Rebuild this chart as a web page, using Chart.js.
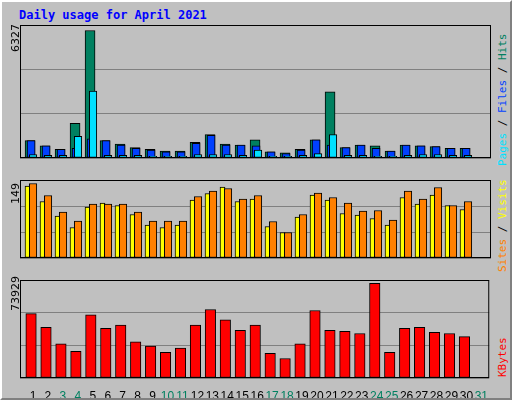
<!DOCTYPE html>
<html><head><meta charset="utf-8">
<script src="https://cdn.jsdelivr.net/npm/chart.js@4"></script>
<style>
body{margin:0;width:512px;height:400px;overflow:hidden;background:#c0c0c0;font-family:"DejaVu Sans Mono",monospace}
#frame{position:absolute;left:0;top:0;width:508px;height:396px;border-left:2px solid #fff;border-top:2px solid #fff;border-right:2px solid #808080;border-bottom:2px solid #808080}
.box{position:absolute;left:20px;width:471px}
.title{position:absolute;left:19px;top:8px;color:#0000ff;font-weight:bold;font-size:12px}
.vl{position:absolute;transform:rotate(-90deg);transform-origin:left top;font-size:11px;white-space:nowrap}
</style></head><body>
<div id="frame"></div>
<div class="title">Daily usage for April 2021</div>
<div class="box" style="top:25px;height:153px"><canvas id="c1"></canvas></div>
<div class="box" style="top:180px;height:98px"><canvas id="c2"></canvas></div>
<div class="box" style="top:280px;height:118px"><canvas id="c3"></canvas></div>
<div class="vl" style="left:9px;top:52px;color:#000;font-family:'DejaVu Sans'">6327</div>
<div class="vl" style="left:9px;top:204px;color:#000;font-family:'DejaVu Sans'">149</div>
<div class="vl" style="left:9px;top:311px;color:#000;font-family:'DejaVu Sans'">73929</div>
<div class="vl" style="left:496px;top:166px"><span style="color:#00e0ff">Pages</span> / <span style="color:#0040ff">Files</span> / <span style="color:#008060">Hits</span></div>
<div class="vl" style="left:496px;top:272px"><span style="color:#ff8000">Sites</span> / <span style="color:#ffff00">Visits</span></div>
<div class="vl" style="left:496px;top:377px;color:#ff0000">KBytes</div>
<script>
const days = Array.from({length: 30}, (_, i) => i + 1)
const dayLabels = ['1','2','3','4','5','6','7','8','9','10','11','12','13','14','15','16','17','18','19','20','21','22','23','24','25','26','27','28','29','30','31']
const weekendDays = [3, 4, 10, 11, 17, 18, 24, 25, 31]
const hits = [863,604,431,1726,6327,863,690,518,431,345,345,776,1165,690,647,906,302,259,431,906,3279,518,647,604,345,647,604,561,475,475]
const files = [863,604,431,475,949,863,647,475,388,302,302,733,1122,647,647,604,302,216,388,906,647,518,647,475,345,647,604,561,475,475]
const pages = [173,129,129,1079,3322,129,129,129,86,86,86,173,173,173,129,388,86,86,129,216,1165,129,129,86,86,129,173,173,129,129]
const sites = [144,113,84,61,102,110,105,87,66,61,66,116,129,142,113,118,63,51,82,126,116,89,86,79,66,121,108,126,105,97]
const visits = [149,125,92,74,108,108,108,92,74,74,74,123,134,139,118,125,73,51,87,130,121,110,94,95,76,134,118,141,105,113]
const kbytes = [50283,39683,26637,20929,49468,38868,41314,28267,25006,20114,23375,41314,53545,45391,37237,41314,19298,15221,26637,52730,37237,36422,34791,73929,20114,38868,39683,35607,34791,32345]

const frame = {
  id: 'frame',
  afterDraw(chart) {
    const { ctx, chartArea: a } = chart
    ctx.save()
    ctx.strokeStyle = '#000'
    ctx.lineWidth = 1
    ctx.strokeRect(a.left + 0.5, a.top + 0.5, a.right - a.left - 1, a.bottom - a.top - 1)
    ctx.restore()
  },
}

function pts(vals, off) {
  return vals.map((v, i) => ({ x: days[i] + off, y: v }))
}

function ds(vals, off, color, w, order) {
  return { data: pts(vals, off), backgroundColor: color, borderColor: '#000', borderWidth: 1, barThickness: w, order, grouped: false, borderSkipped: false }
}

function makeChart(id, datasets, max, showX) {
  return new Chart(document.getElementById(id), {
    type: 'bar',
    data: { datasets },
    options: {
      responsive: true, maintainAspectRatio: false, animation: false,
      layout: { padding: 0 },
      plugins: { legend: { display: false }, tooltip: { enabled: false } },
      scales: {
        x: {
          type: 'linear', min: 0.13, max: 31.53, display: showX, offset: false,
          grid: { display: false }, border: { display: false },
          afterBuildTicks: s => { s.ticks = dayLabels.map((_, i) => ({ value: i + 1 })) },
          afterFit: s => { s.height = 20 },
          ticks: {
            autoSkip: false, maxRotation: 0, padding: 3,
            font: { family: 'Liberation Sans', size: 12 },
            color: c => weekendDays.includes(c.tick.value) ? '#008060' : '#000',
            callback: v => dayLabels[v - 1],
          },
        },
        y: {
          min: 0, max,
          afterBuildTicks: s => { s.ticks = [0, max / 3, 2 * max / 3, max].map(value => ({ value })) },
          afterFit: s => { s.width = 0 },
          ticks: { display: false },
          grid: { color: '#808080', drawTicks: false },
          border: { display: false },
        },
      },
    },
    plugins: [frame],
  })
}

makeChart('c1', [
  ds(hits, -0.2, '#008060', 10, 3),
  ds(files, -0.13, '#0040ff', 8, 2),
  ds(pages, 0, '#00e0ff', 7.5, 1),
], 6600, false)
makeChart('c2', [
  ds(sites, -0.37, '#ffff00', 5, 2),
  ds(visits, 0, '#ff8000', 7.5, 1),
], 156, false)
makeChart('c3', [
  ds(kbytes, -0.13, '#ff0000', 10.5, 1),
], 76600, true)
</script>
</body></html>
